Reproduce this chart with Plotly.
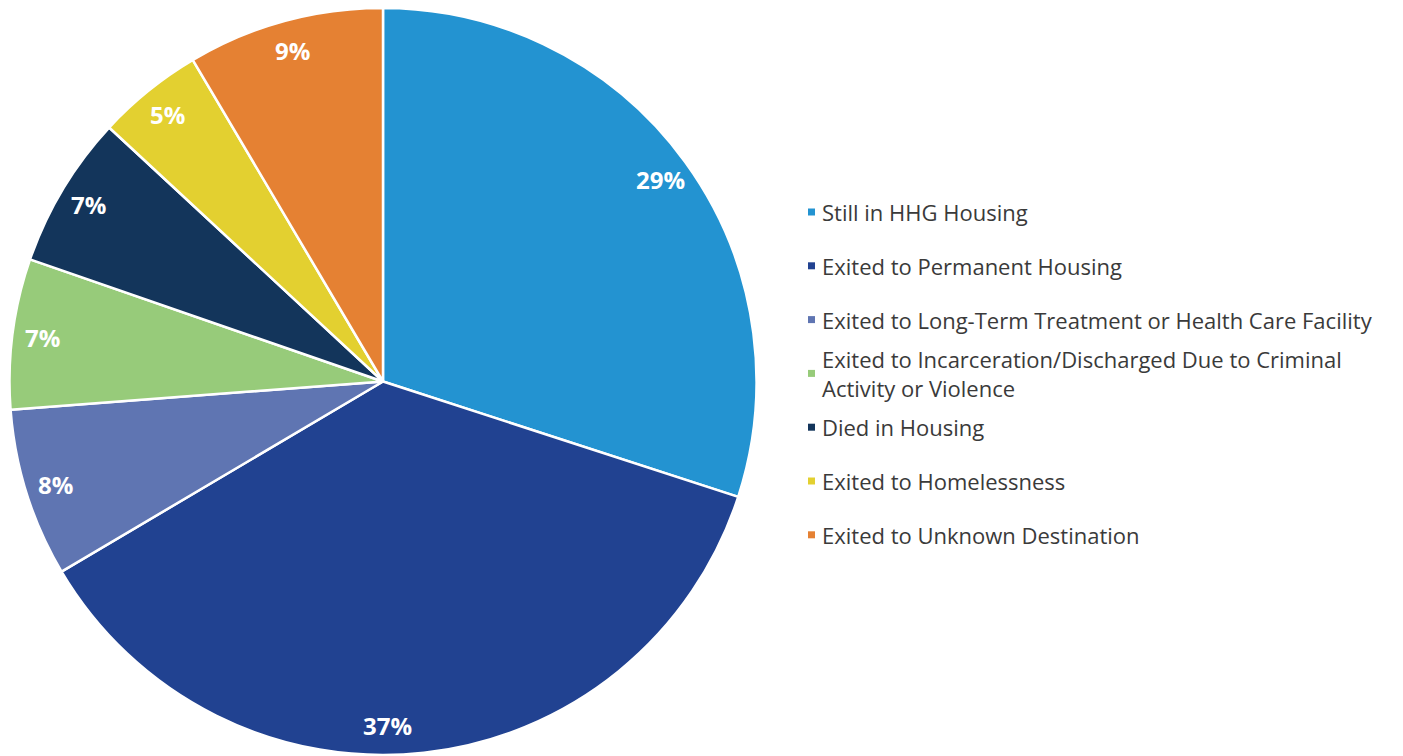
import math
import plotly.graph_objects as go

categorias = [
    "Still in HHG Housing",
    "Exited to Permanent Housing",
    "Exited to Long-Term Treatment or Health Care Facility",
    "Exited to Incarceration/Discharged Due to Criminal<br>Activity or Violence",
    "Died in Housing",
    "Exited to Homelessness",
    "Exited to Unknown Destination",
]
valores = [30.0, 36.5, 7.3, 6.5, 6.6, 4.6, 8.5]
etiquetas = ["29%", "37%", "8%", "7%", "7%", "5%", "9%"]
colores = ["#2393D1", "#214291", "#5F75B2", "#97CB7A", "#13355B", "#E3D030", "#E58133"]

W, H = 1403, 756
# la página deja un margen de 8 px alrededor de la figura
off = 8
r = 373.5
cx, cy = 383 - off, r

fig = go.Figure()

fig.add_trace(go.Pie(
    labels=categorias,
    values=valores,
    sort=False,
    direction="clockwise",
    rotation=0,
    marker=dict(colors=colores, line=dict(color="white", width=2.5)),
    textinfo="none",
    hoverinfo="label+percent",
    showlegend=False,
    domain=dict(x=[(cx - r) / W, (cx + r) / W], y=[1 - (cy + r) / H, 1 - (cy - r) / H]),
))

# Etiquetas de porcentaje cerca del borde exterior de cada porción
# (la etiqueta de la porción grande de abajo está algo desplazada en el original)
ajuste_angulo = {1: 5.5}
total = sum(valores)
acum = 0
for i, (v, t) in enumerate(zip(valores, etiquetas)):
    ang = math.radians((acum + v / 2) / total * 360 + ajuste_angulo.get(i, 0))
    acum += v
    px = cx + 0.92 * r * math.sin(ang)
    py = cy - 0.92 * r * math.cos(ang)
    fig.add_annotation(
        x=px / W, y=1 - py / H, xref="paper", yref="paper",
        xanchor="center", yanchor="middle",
        text=f"<b>{t}</b>", showarrow=False,
        font=dict(family="Open Sans", size=24, color="white"),
    )

# Leyenda a la derecha
y0, paso = 212 - off, 53.8
for i, (cat, col) in enumerate(zip(categorias, colores)):
    yy = y0 + i * paso
    fig.add_shape(
        type="rect", xref="paper", yref="paper",
        x0=(808 - off) / W, x1=(815 - off) / W,
        y0=1 - (yy + 3.5) / H, y1=1 - (yy - 3.5) / H,
        fillcolor=col, line=dict(width=0),
    )
    fig.add_annotation(
        x=(820 - off) / W, y=1 - yy / H, xref="paper", yref="paper",
        xanchor="left", yanchor="middle", align="left",
        text=cat, showarrow=False,
        font=dict(family="Open Sans", size=22, color="#3a3a3a"),
    )

fig.update_layout(
    width=W, height=H,
    margin=dict(l=0, r=0, t=0, b=0),
    paper_bgcolor="white",
    plot_bgcolor="white",
)

fig.write_html("out.html")
